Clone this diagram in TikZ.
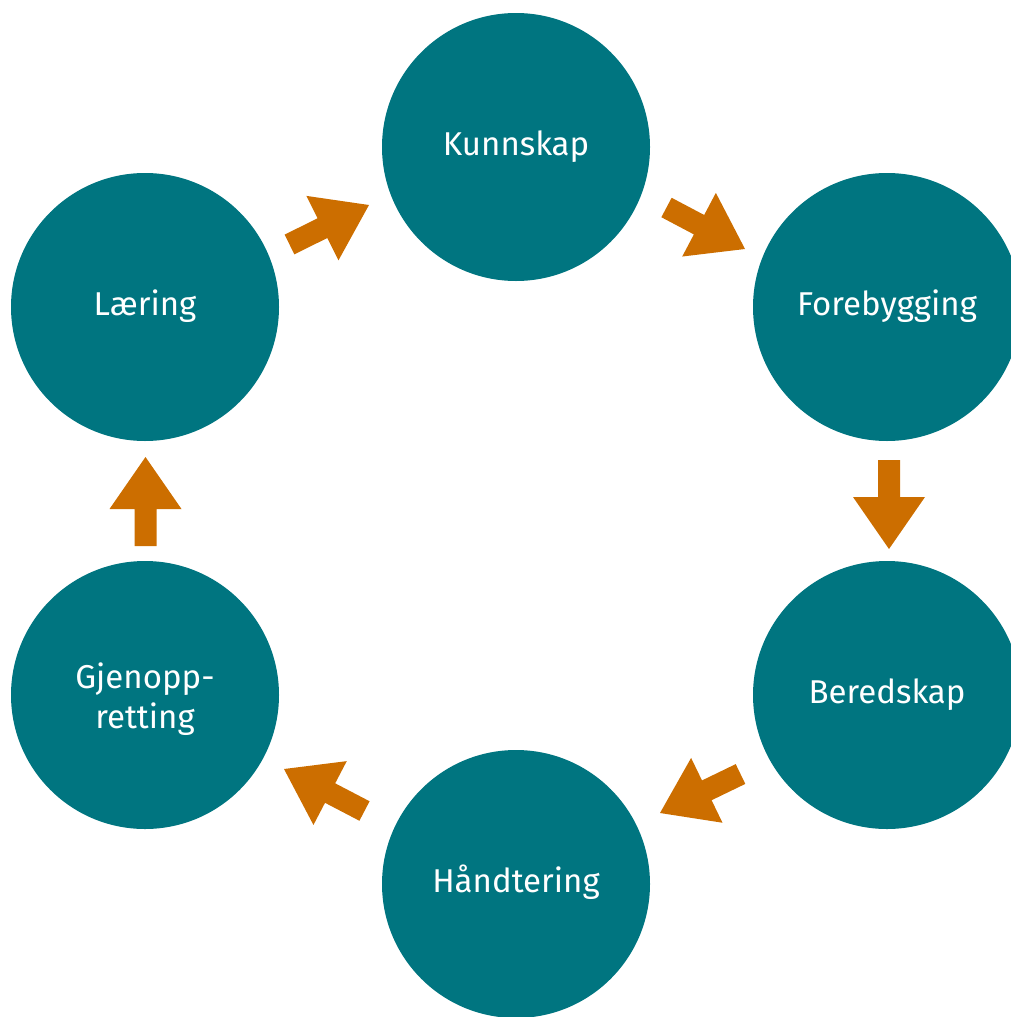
\documentclass[tikz,border=0pt]{standalone}
\usepackage{fontspec}
\setmainfont{Fira Sans}
\usetikzlibrary{calc}
\definecolor{teal}{RGB}{0,117,128}
\definecolor{arrowcol}{RGB}{204,110,0}
\tikzset{
  stage/.style={circle,fill=teal,draw=none,minimum size=268pt,inner sep=0pt},
  lbl/.style={text=white,font=\fontsize{33}{40}\selectfont,anchor=base,inner sep=0pt,align=center},
}
\newcommand\blockarrow[2]{%
  \coordinate (bh) at ($(#2)!52pt!(#1)$);
  \fill[arrowcol] ($(#1)!11pt!90:(#2)$) -- ($(bh)!11pt!90:(#2)$) -- ($(bh)!36pt!90:(#2)$) -- (#2)
    -- ($(bh)!36pt!-90:(#2)$) -- ($(bh)!11pt!-90:(#2)$) -- ($(#1)!11pt!-90:(#2)$) -- cycle;}
\begin{document}
\begin{tikzpicture}[x=1pt,y=-1pt]
\useasboundingbox (0,0) rectangle (1011,1017);
\node[stage] (kun) at (516,147) {};
\node[stage] (for) at (887,307) {};
\node[stage] (ber) at (887,695) {};
\node[stage] (han) at (516,884) {};
\node[stage] (gje) at (145,695) {};
\node[stage] (lae) at (145,307) {};
\node[lbl] (tkun) at (516,155) {Kunnskap};
\node[lbl] (tfor) at (887,315) {Forebygging};
\node[lbl] (tber) at (887,703) {Beredskap};
\node[lbl] (than) at (516,892) {Håndtering};
\node[lbl] (tgje) at (145,728) {Gjenopp-\\retting};
\node[lbl] (tlae) at (145,315) {Læring};
\coordinate (a1t) at (289.5,244.5); \coordinate (a1h) at (369,205);
\coordinate (a2t) at (666.5,207.5); \coordinate (a2h) at (745,249);
\coordinate (a3t) at (889,460);     \coordinate (a3h) at (889,549);
\coordinate (a4t) at (740.5,774);   \coordinate (a4h) at (660,813);
\coordinate (a5t) at (364.5,811);   \coordinate (a5h) at (284,769);
\coordinate (a6t) at (145.5,546);   \coordinate (a6h) at (145.5,457);
\blockarrow{a1t}{a1h}
\blockarrow{a2t}{a2h}
\blockarrow{a3t}{a3h}
\blockarrow{a4t}{a4h}
\blockarrow{a5t}{a5h}
\blockarrow{a6t}{a6h}
\end{tikzpicture}
\end{document}
